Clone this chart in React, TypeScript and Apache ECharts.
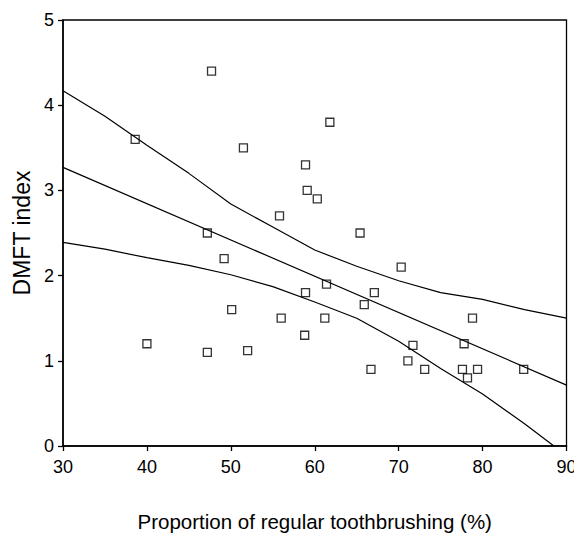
import React, { useEffect, useRef } from "react";
import * as echarts from "echarts";

// Scatter observations: proportion of regular toothbrushing (%) vs DMFT index
const pointX = [38.6, 47.7, 40.0, 47.2, 47.2, 49.2, 50.1, 51.5, 52.0, 55.8, 56.0, 58.9, 59.1, 60.3, 61.8, 58.9, 58.8, 61.4, 61.2, 65.4, 65.9, 67.1, 66.7, 70.3, 71.1, 71.7, 73.1, 77.6, 77.8, 78.2, 78.8, 79.4, 84.9];
const pointY = [3.6, 4.4, 1.2, 2.5, 1.1, 2.2, 1.6, 3.5, 1.12, 2.7, 1.5, 3.3, 3.0, 2.9, 3.8, 1.8, 1.3, 1.9, 1.5, 2.5, 1.66, 1.8, 0.9, 2.1, 1.0, 1.18, 0.9, 0.9, 1.2, 0.8, 1.5, 0.9, 0.9];

// Fitted regression line
const fitX = [30, 90];
const fitY = [3.27, 0.715];

// Upper confidence band
const upperX = [30, 35, 40, 45, 50, 55, 60, 65, 70, 75, 80, 85, 90];
const upperY = [4.17, 3.87, 3.53, 3.2, 2.84, 2.57, 2.3, 2.11, 1.94, 1.8, 1.72, 1.6, 1.5];

// Lower confidence band
const lowerX = [30, 35, 40, 45, 50, 55, 60, 65, 70, 75, 80, 85, 88.5];
const lowerY = [2.39, 2.31, 2.21, 2.12, 2.01, 1.87, 1.69, 1.5, 1.23, 0.91, 0.61, 0.26, 0.0];

const xAxisTitle = "Proportion of regular toothbrushing (%)";
const yAxisTitle = "DMFT index";

const FONT = 'Arial, "Liberation Sans", sans-serif';

const zip = (xs: number[], ys: number[]) => xs.map((x, i) => [x, ys[i]]);

export default function App() {
  const ref = useRef<HTMLDivElement>(null);

  useEffect(() => {
    if (!ref.current) return;
    const chart = echarts.init(ref.current, undefined, { renderer: "svg" });
    const lineStyle = { color: "#000", width: 1.2 };
    chart.setOption({
      animation: false,
      backgroundColor: "#fff",
      grid: {
        left: 63,
        right: 7.5,
        top: 20,
        bottom: 89,
        containLabel: false,
        outerBoundsMode: "none",
        show: true,
        borderColor: "#000",
        borderWidth: 1.3,
      },
      xAxis: {
        type: "value",
        min: 30,
        max: 90,
        interval: 10,
        name: xAxisTitle,
        nameLocation: "middle",
        nameGap: 65,
        nameTextStyle: { fontFamily: FONT, fontSize: 20.5, color: "#000" },
        axisLine: { show: true, lineStyle: { color: "#000", width: 1.5 } },
        axisTick: { show: true, inside: false, length: 5, lineStyle: { color: "#000", width: 1.3 } },
        axisLabel: { fontFamily: FONT, fontSize: 18, color: "#000", margin: 12 },
        splitLine: { show: false },
      },
      yAxis: {
        type: "value",
        min: 0,
        max: 5,
        interval: 1,
        name: yAxisTitle,
        nameLocation: "middle",
        nameGap: 26,
        nameTextStyle: { fontFamily: FONT, fontSize: 23, color: "#000" },
        axisLine: { show: true, lineStyle: { color: "#000", width: 1.5 } },
        axisTick: { show: true, inside: false, length: 5, lineStyle: { color: "#000", width: 1.3 } },
        axisLabel: { fontFamily: FONT, fontSize: 18, color: "#000", margin: 9 },
        splitLine: { show: false },
      },
      series: [
        {
          type: "line",
          data: zip(upperX, upperY),
          showSymbol: false,
          symbol: "none",
          lineStyle,
          z: 2,
        },
        {
          type: "line",
          data: zip(fitX, fitY),
          showSymbol: false,
          symbol: "none",
          lineStyle,
          z: 2,
        },
        {
          type: "line",
          data: zip(lowerX, lowerY),
          showSymbol: false,
          symbol: "none",
          lineStyle,
          z: 2,
        },
        {
          type: "scatter",
          data: zip(pointX, pointY),
          symbol: "rect",
          symbolSize: 8,
          itemStyle: { color: "rgba(255,255,255,0)", borderColor: "#000", borderWidth: 1.3 },
          z: 3,
        },
      ],
    });
    return () => chart.dispose();
  }, []);

  return (
    <div
      ref={ref}
      style={{ position: "fixed", left: 0, top: 0, width: 574, height: 535, overflow: "hidden" }}
    />
  );
}
